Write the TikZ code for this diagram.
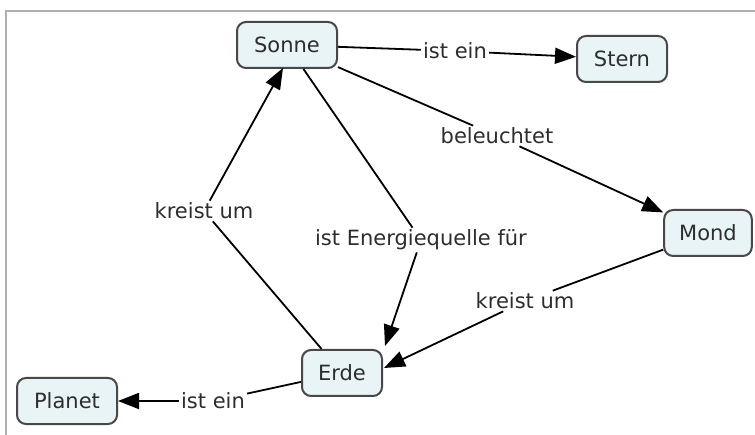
\documentclass[tikz,border=0pt]{standalone}
\usepackage{fontspec}
\setmainfont{DejaVu Sans}
\usetikzlibrary{arrows.meta,calc}
\definecolor{conceptfill}{RGB}{233,244,247}
\definecolor{conceptdraw}{RGB}{72,72,72}
\definecolor{textgray}{RGB}{45,45,45}
\definecolor{framegray}{RGB}{175,175,175}
\tikzset{
  concept/.style={draw=conceptdraw, fill=conceptfill, line width=2pt,
    rounded corners=9pt, minimum height=46pt, inner xsep=15pt,
    text=textgray, font=\fontsize{21}{24}\selectfont},
  linkword/.style={inner xsep=2pt, inner ysep=2pt, text=textgray,
    font=\fontsize{21}{24}\selectfont},
  link/.style={draw=black, line width=1.8pt},
  linkarrow/.style={link, -{Triangle[length=21pt,width=16pt]}},
}
\begin{document}
\begin{tikzpicture}[x=1pt,y=-1pt]
  \useasboundingbox (0,0) rectangle (755,435);
  % window frame
  \draw[framegray, line width=2pt] (755,11) -- (6,11) -- (6,435);

  % concepts
  \node[concept, minimum width=100pt] (sonne)  at (287,45)  {Sonne};
  \node[concept, minimum width=90pt]  (stern)  at (622,59)  {Stern};
  \node[concept, minimum width=87pt]  (mond)   at (708,233) {Mond};
  \node[concept, minimum width=80pt]  (erde)   at (342,373) {Erde};
  \node[concept, minimum width=100pt] (planet) at (67,401)  {Planet};

  % linking phrases
  \node[linkword] (l1) at (455,51)  {ist ein};
  \node[linkword] (l2) at (497,136) {beleuchtet};
  \node[linkword] (l3) at (421,240) {ist Energiequelle für};
  \node[linkword] (l4) at (204,211) {kreist um};
  \node[linkword] (l5) at (525,301) {kreist um};
  \node[linkword] (l6) at (213,401) {ist ein};

  % propositions
  \draw[link] (sonne) -- (l1);
  \draw[linkarrow] (l1) -- (stern);
  \draw[link] (sonne) -- (l2);
  \draw[linkarrow] (l2) -- (mond);
  \draw[link] (sonne) -- (l3);
  \draw[linkarrow] (l3) -- ($(erde.north east)+(2,-3)$);
  \draw[link] (erde) -- (l4);
  \draw[linkarrow] (l4) -- ($(sonne.south)+(-4,-1)$);
  \draw[link] (mond) -- (l5);
  \draw[linkarrow] (l5) -- ($(erde.east)+(1,-5)$);
  \draw[link] (erde) -- (l6);
  \draw[linkarrow] (l6) -- (planet);
\end{tikzpicture}
\end{document}
